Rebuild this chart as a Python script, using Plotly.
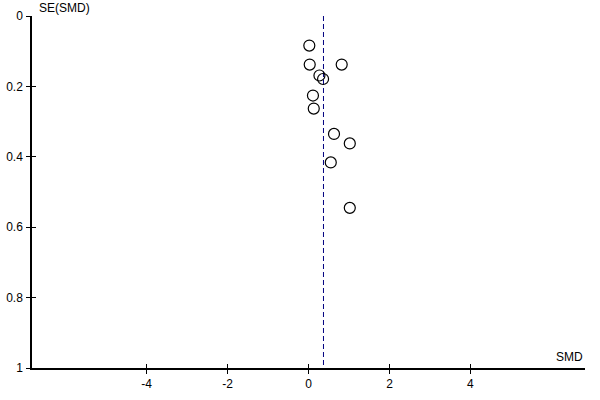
import plotly.graph_objects as go

# study estimates (SMD) and their standard errors
smd = [0.02, 0.03, 0.82, 0.27, 0.36, 0.11, 0.13, 0.63, 1.02, 0.55, 1.02]
se_smd = [0.084, 0.138, 0.138, 0.169, 0.179, 0.226, 0.263, 0.335, 0.362, 0.416, 0.545]
pooled_smd = 0.37

x_ticks = [-4, -2, 0, 2, 4]
x_tick_labels = ["-4", "-2", "0", "2", "4"]
y_ticks = [0, 0.2, 0.4, 0.6, 0.8, 1]
y_tick_labels = ["0", "0.2", "0.4", "0.6", "0.8", "1"]

font = dict(family="Liberation Sans, Arial, sans-serif", size=12, color="black")
x_range = [-6.83, 6.83]
y_range = [1, 0]

fig = go.Figure()

fig.add_trace(
    go.Scatter(
        x=[pooled_smd, pooled_smd],
        y=[0, 1],
        mode="lines",
        line=dict(color="#000080", width=1, dash="5px,3px"),
        hoverinfo="skip",
    )
)
fig.add_trace(
    go.Scatter(
        x=smd,
        y=se_smd,
        mode="markers",
        marker=dict(symbol="circle-open", size=11, color="black", line=dict(width=1.2)),
    )
)
# dummy trace on the overlay axes so their inside ticks get drawn
fig.add_trace(
    go.Scatter(x=[0], y=[0], xaxis="x2", yaxis="y2", mode="markers",
               marker=dict(opacity=0), hoverinfo="skip")
)

axis_common = dict(
    showgrid=False,
    zeroline=False,
    showline=True,
    linecolor="black",
    linewidth=1.5,
    tickcolor="black",
    tickwidth=1,
    ticklen=4,
    tickfont=font,
    automargin=False,
)

fig.update_layout(
    width=600,
    height=400,
    margin=dict(l=32, r=15, t=16, b=32),
    paper_bgcolor="white",
    plot_bgcolor="white",
    showlegend=False,
    font=font,
    xaxis=dict(
        axis_common,
        range=x_range,
        tickmode="array",
        tickvals=x_ticks,
        ticktext=x_tick_labels,
        ticks="outside",
        ticklabelstandoff=0,
    ),
    yaxis=dict(
        axis_common,
        range=y_range,
        tickmode="array",
        tickvals=y_ticks,
        ticktext=y_tick_labels,
        ticks="outside",
        ticklabelstandoff=1,
    ),
    # overlay axes only add the inner half of each tick (ticks cross the axis)
    xaxis2=dict(
        axis_common,
        range=x_range,
        overlaying="x",
        anchor="y2",
        side="bottom",
        tickmode="array",
        tickvals=x_ticks,
        ticks="inside",
        showticklabels=False,
    ),
    yaxis2=dict(
        axis_common,
        range=y_range,
        overlaying="y",
        anchor="x2",
        side="left",
        tickmode="array",
        tickvals=y_ticks,
        ticks="inside",
        showticklabels=False,
    ),
    annotations=[
        dict(
            text="SE(SMD)",
            xref="paper",
            yref="paper",
            x=0,
            y=1,
            xanchor="left",
            yanchor="middle",
            xshift=5,
            yshift=8,
            showarrow=False,
            font=font,
        ),
        dict(
            text="SMD",
            xref="paper",
            yref="paper",
            x=1,
            y=0,
            xanchor="right",
            yanchor="bottom",
            yshift=2,
            showarrow=False,
            font=font,
        ),
    ],
)

# drop the default 8px body margin so the figure sits at the window corner
fig.write_html(
    "out.html",
    config={"displayModeBar": False},
    post_script="document.body.style.margin='0';",
)
